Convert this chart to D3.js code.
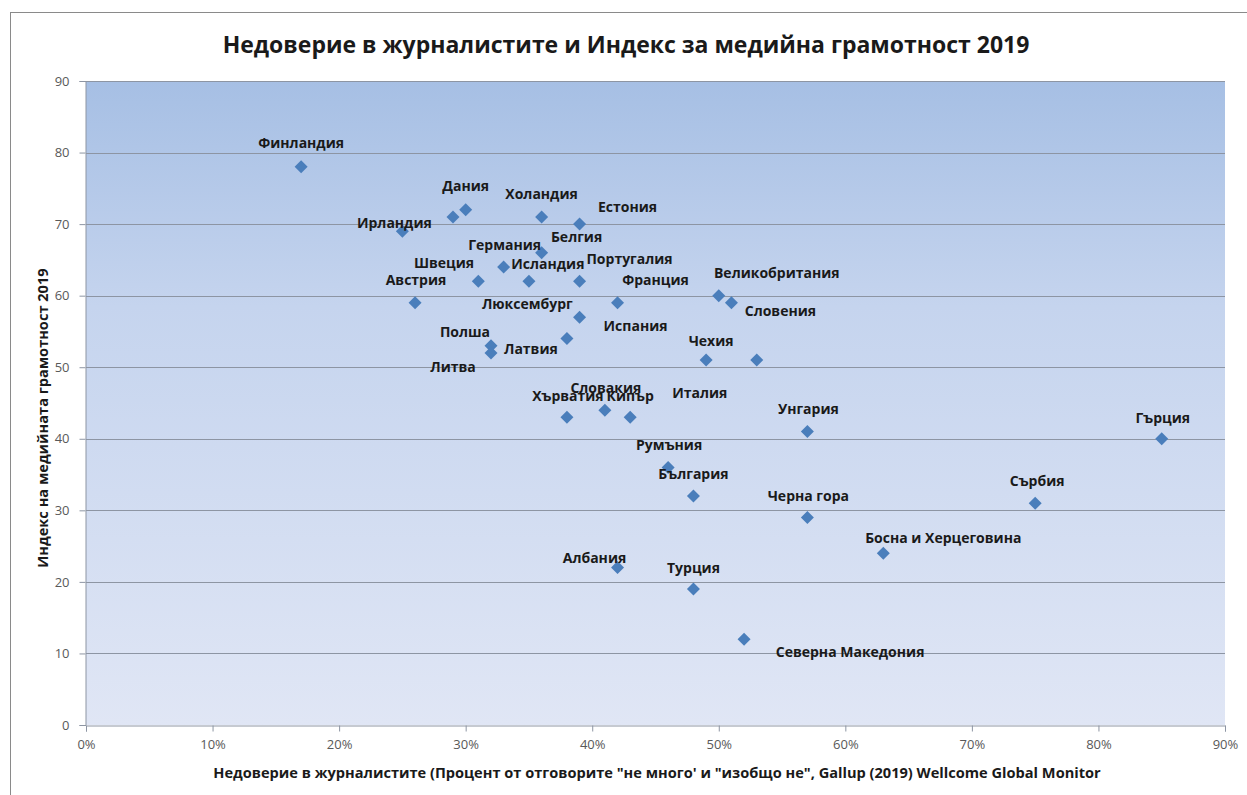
<!DOCTYPE html>
<html><head><meta charset="utf-8">
<script src="https://cdn.jsdelivr.net/npm/d3@7"></script>
<style>
html,body{margin:0;padding:0;background:#fff;}
svg{display:block;}
text{font-family:"Open Sans","Noto Sans",sans-serif;}
</style></head>
<body>
<svg id="chart" width="1247" height="795"></svg>
<script>
// ---- data ----
const countries = ["Финландия","Дания","Швеция","Холандия","Естония","Ирландия","Белгия","Германия","Люксембург","Исландия","Португалия","Австрия","Франция","Великобритания","Словения","Испания","Латвия","Полша","Литва","Чехия","Италия","Хърватия","Словакия","Кипър","Унгария","Гърция","Румъния","България","Черна гора","Сърбия","Босна и Херцеговина","Албания","Турция","Северна Македония"];
const distrust = [0.17,0.30,0.29,0.36,0.39,0.25,0.36,0.33,0.31,0.35,0.39,0.26,0.42,0.50,0.51,0.39,0.38,0.32,0.32,0.49,0.53,0.38,0.41,0.43,0.57,0.85,0.46,0.48,0.57,0.75,0.63,0.42,0.48,0.52];
const literacy = [78,72,71,71,70,69,66,64,62,62,62,59,59,60,59,57,54,53,52,51,51,43,44,43,41,40,36,32,29,31,24,22,19,12];
const xTicks = [0,0.1,0.2,0.3,0.4,0.5,0.6,0.7,0.8,0.9];
const yTicks = [0,10,20,30,40,50,60,70,80,90];
const title = "Недоверие в журналистите и Индекс за медийна грамотност 2019";
const xTitle = "Недоверие в журналистите (Процент от отговорите \"не много' и \"изобщо не\",  Gallup (2019) Wellcome Global Monitor";
const yTitle = "Индекс на медийната грамотност 2019";
// label placement (pixel offsets of label centre from marker)
const labelOffsets = [[0,-24],[0,-24],[-9,46],[0,-23],[48,-18],[-8,-9],[35,-16],[1,-23],[49,22],[19,-18],[50,-23],[1,-23],[38,-23],[58,-23],[49,8],[56,8],[-36,10],[-26,-14],[-38,14],[5,-20],[-57,32],[1,-22],[1,-23],[0,-22],[1,-23],[1,-21],[1,-23],[0,-23],[1,-22],[2,-23],[60,-16],[-23,-10],[0,-22],[106,12]];

// ---- layout ----
const svg = d3.select("#chart");
const L = 86, R = 1225, T = 81, B = 725;
const x = d3.scaleLinear().domain([0,0.9]).range([L,R]);
const y = d3.scaleLinear().domain([0,90]).range([B,T]);

// outer frame
svg.append("rect").attr("x",10.5).attr("y",12.5).attr("width",1260).attr("height",800)
  .attr("fill","#fff").attr("stroke","#8a8a8a").attr("stroke-width",1);

// gradient
const defs = svg.append("defs");
const g = defs.append("linearGradient").attr("id","bg").attr("x1",0).attr("x2",0).attr("y1",0).attr("y2",1);
g.append("stop").attr("offset","0%").attr("stop-color","#a6bfe4");
g.append("stop").attr("offset","35%").attr("stop-color","#c5d4ee");
g.append("stop").attr("offset","100%").attr("stop-color","#e0e6f5");
svg.append("rect").attr("x",L).attr("y",T).attr("width",R-L).attr("height",B-T).attr("fill","url(#bg)");

// gridlines
svg.append("g").selectAll("line").data(yTicks.filter(d=>d>0)).join("line")
  .attr("x1",L).attr("x2",R).attr("y1",d=>Math.round(y(d))+0.5).attr("y2",d=>Math.round(y(d))+0.5)
  .attr("stroke","#8d95a3").attr("stroke-width",1);

// axes
const xAxis = d3.axisBottom(x).tickValues(xTicks).tickFormat(d3.format(".0%")).tickSize(6).tickPadding(8);
const yAxis = d3.axisLeft(y).tickValues(yTicks).tickSize(6).tickPadding(10);
const gx = svg.append("g").attr("transform",`translate(0,${B+0.5})`).call(xAxis);
const gy = svg.append("g").attr("transform",`translate(${L-0.5},0)`).call(yAxis);
[gx,gy].forEach(a=>{
  a.select(".domain").attr("stroke","#8d95a3");
  a.selectAll(".tick line").attr("stroke","#8d95a3");
  a.selectAll(".tick text").attr("fill","#595959").style("font-size","13px").style("font-family","'Open Sans',sans-serif");
});

// title
svg.append("text").attr("x",626).attr("y",53).attr("text-anchor","middle")
  .style("font-size","23px").style("font-weight","700").attr("fill","#1a1a1a").text(title);
// axis titles
svg.append("text").attr("x",657).attr("y",778).attr("text-anchor","middle")
  .style("font-size","14.6px").style("font-weight","700").attr("fill","#1a1a1a").text(xTitle);
svg.append("text").attr("transform",`translate(48,418) rotate(-90)`).attr("text-anchor","middle")
  .style("font-size","14.6px").style("font-weight","700").attr("fill","#1a1a1a").text(yTitle);

// points
const pts = countries.map((c,i)=>({c, dx:distrust[i], v:literacy[i], off:labelOffsets[i]}));
const s = 6.5;
svg.append("g").selectAll("path").data(pts).join("path")
  .attr("d",d=>{const px=x(d.dx), py=y(d.v); return `M${px},${py-s}L${px+s},${py}L${px},${py+s}L${px-s},${py}Z`;})
  .attr("fill","#4a7ebb");

// labels
svg.append("g").selectAll("text").data(pts).join("text")
  .attr("x",d=>x(d.dx)+d.off[0]).attr("y",d=>y(d.v)+d.off[1])
  .attr("text-anchor","middle").attr("dominant-baseline","central")
  .style("font-size","14px").style("font-weight","700").attr("fill","#1a1a1a")
  .text(d=>d.c);
</script>
</body></html>
